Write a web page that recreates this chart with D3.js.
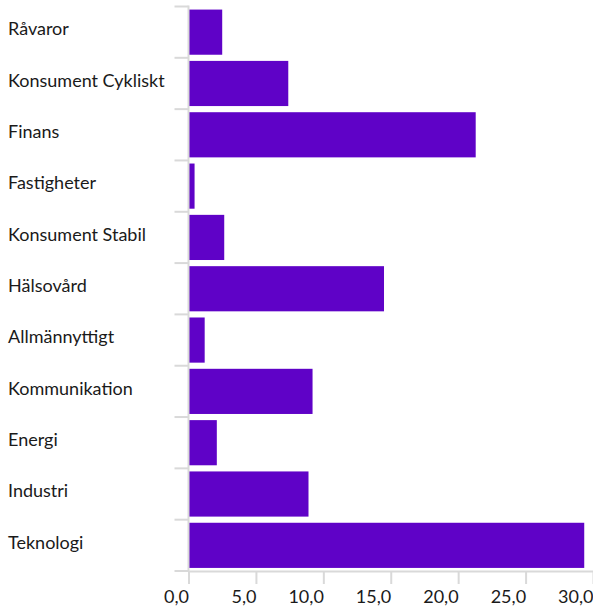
<!DOCTYPE html>
<html>
<head>
<meta charset="utf-8">
<script src="https://cdn.jsdelivr.net/npm/d3@7"></script>
<style>
  body { margin: 0; background: #fff; }
  text { font-family: Lato, "Open Sans", sans-serif; fill: #1a1a1a; }
</style>
</head>
<body>
<div id="chart"></div>
<script>
// sector weights (%)
var sectors = ["Råvaror", "Konsument Cykliskt", "Finans", "Fastigheter", "Konsument Stabil",
  "Hälsovård", "Allmännyttigt", "Kommunikation", "Energi", "Industri", "Teknologi"];
var weights = [2.5, 7.4, 21.3, 0.45, 2.65, 14.5, 1.2, 9.2, 2.1, 8.9, 29.35];
var xTicks = [0, 5, 10, 15, 20, 25, 30];

var width = 593, height = 609;
var margin = {top: 6.5, right: 0, bottom: 38, left: 188.5};

var svg = d3.select("#chart").append("svg")
  .attr("width", width)
  .attr("height", height);

var x = d3.scaleLinear()
  .domain([0, 30])
  .range([margin.left, width - 0]);

var y = d3.scaleBand()
  .domain(sectors)
  .range([margin.top, height - margin.bottom])
  .paddingInner(0.12)
  .paddingOuter(0.06);

var data = sectors.map(function(s, i) { return {name: s, value: weights[i]}; });

// bars
svg.selectAll(".bar")
  .data(data)
  .enter().append("rect")
  .attr("class", "bar")
  .attr("x", x(0) + 0.5)
  .attr("y", function(d) { return y(d.name); })
  .attr("width", function(d) { return x(d.value) - x(0) - 0.5; })
  .attr("height", y.bandwidth())
  .attr("fill", "#5f02c7");

var grey = "#d9d9d9";
var y0 = y.range()[0], y1 = y.range()[1];

// category boundary ticks
var edges = sectors.map(function(s) { return y(s) - y.step() * y.paddingInner() / 2; });
edges.push(y1);
svg.selectAll(".ytick")
  .data(edges)
  .enter().append("line")
  .attr("x1", x(0) - 14).attr("x2", x(0))
  .attr("y1", function(d) { return d; }).attr("y2", function(d) { return d; })
  .attr("stroke", grey).attr("stroke-width", 2);

// vertical axis line
svg.append("line")
  .attr("x1", x(0)).attr("x2", x(0))
  .attr("y1", edges[0] - 1).attr("y2", y1)
  .attr("stroke", grey).attr("stroke-width", 2);

// category labels
svg.selectAll(".ylabel")
  .data(sectors)
  .enter().append("text")
  .attr("x", 8)
  .attr("y", function(d) { return y(d) + y.bandwidth() / 2 - 3; })
  .attr("dy", "0.35em")
  .attr("font-size", "18px")
  .text(function(d) { return d; });

// x axis
var fmt = function(d) { return d3.format(".1f")(d).replace(".", ","); };
var xAxis = svg.append("g")
  .attr("transform", "translate(0," + y1 + ")")
  .call(d3.axisBottom(x).tickValues(xTicks).tickSize(13).tickSizeOuter(0).tickFormat(fmt));
xAxis.select(".domain").attr("stroke", grey).attr("stroke-width", 2);
xAxis.selectAll(".tick line").attr("stroke", grey).attr("stroke-width", 2);
xAxis.selectAll(".tick text")
  .attr("text-anchor", "end")
  .attr("y", 19)
  .attr("font-size", "18px")
  .attr("fill", "#1a1a1a")
  .style("font-family", "Lato, 'Open Sans', sans-serif");
</script>
</body>
</html>
